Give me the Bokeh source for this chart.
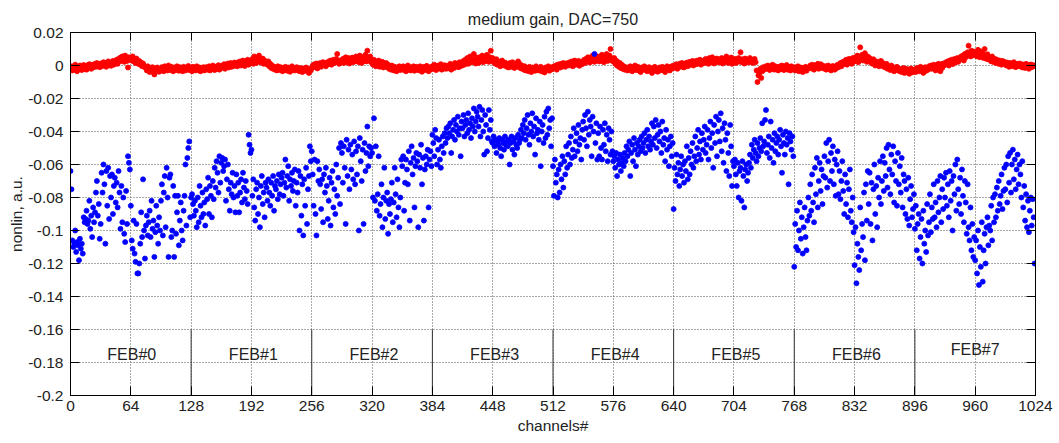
from bokeh.plotting import figure
from bokeh.models import FixedTicker, LinearAxis, Range1d, CustomLabelingPolicy
from bokeh.embed import file_html
from bokeh.resources import INLINE
from bokeh.core.properties import value

title_text = "medium gain, DAC=750"
x_label = "channels#"
y_label = "nonlin, a.u."
x_ticks = [0, 64, 128, 192, 256, 320, 384, 448, 512, 576, 640, 704, 768, 832, 896, 960, 1024]
y_ticks = [0.02, 0, -0.02, -0.04, -0.06, -0.08, -0.1, -0.12, -0.14, -0.16, -0.18, -0.2]
y_tick_labels = ["0.02", "0", "-0.02", "-0.04", "-0.06", "-0.08", "-0.1", "-0.12", "-0.14", "-0.16", "-0.18", "-0.2"]
feb_labels = ["FEB#0", "FEB#1", "FEB#2", "FEB#3", "FEB#4", "FEB#5", "FEB#6", "FEB#7"]
feb_x = [65, 194, 322, 450, 578, 706, 834, 960]
feb_y = [-0.175, -0.175, -0.175, -0.175, -0.175, -0.175, -0.175, -0.172]
sep_x = [128, 256, 384, 512, 640, 768, 896]
sep_bottom = [-0.2] * 7
sep_top = [-0.16] * 7

# red series, units of 1e-4
red_e4 = [
    -20, -5, -30, -10, -25, 5, -18, -35, -8, -22, 0, -15, -28, -12, 3, -20,
    -10, -25, 2, -15, 8, -5, -20, 5, -12, 0, 10, -8, 15, -3, 6, -10,
    12, -5, 8, 20, 0, 15, -8, 10, 25, 3, 18, -2, 12, 28, 5, 15,
    20, 35, 10, 40, 25, 48, 30, 55, 38, 22, 60, 42, 28, -12, 50, 35,
    45, 30, 55, 25, 38, 15, 42, 20, 10, 28, 5, 18, -5, 12, 0, -10,
    -15, -30, -5, -25, -40, -18, -35, -10, -28, -54, -20, -32, -12, -25, -38, -22,
    -30, -10, -25, -35, -5, -22, -15, -30, 0, -18, -28, -8, -25, -35, -12, -20,
    -28, -5, -18, -32, -10, -25, -15, -35, -8, -22, -30, -12, -20, -3, -28, -15,
    -22, -35, -8, -25, -15, -30, -5, -20, -28, -12, -35, -18, -25, -10, -30, -20,
    -10, -25, -18, -5, -30, -12, -22, 0, -15, -28, -8, -20, -12, 2, -25, -10,
    -15, 0, -10, 8, -20, 5, -5, 12, -12, 3, 15, -8, 6, -3, 18, 0,
    10, -5, 20, 5, 25, 0, 15, 30, 8, -3, 22, 12, 35, 5, 18, 28,
    20, 40, 10, 55, 30, 15, 45, 25, 60, 35, 18, 28, 42, 10, 30, 22,
    15, 5, 25, -5, 10, -15, 0, -20, -8, -25, -12, -30, -5, -18, -28, -10,
    -22, -35, -15, -28, -8, -25, -32, -12, -20, -38, -18, -5, -28, -15, -30, -22,
    -10, -28, -20, -35, -15, -25, -40, -18, -30, -22, -12, -35, -25, -45, -20, -30,
    -15, 0, -10, 8, -5, 12, -18, 5, 0, 15, -8, 10, 20, 2, 12, -5,
    18, 8, 25, 12, 30, 5, 20, 35, 15, 28, 40, 70, 22, 10, 30, 18,
    25, 40, 15, 35, 50, 20, 30, 45, 12, 38, 28, 48, 20, 35, 25, 55,
    30, 45, 20, 60, 35, 15, 50, 28, 40, 65, 25, 90, 45, 30, 55, 20,
    25, 5, 35, 15, -5, 20, 10, 30, -8, 12, 0, 22, -12, 8, -5, 15,
    -10, 5, -20, -5, -25, 0, -15, -30, -8, -18, -35, -12, -22, -5, -28, -15,
    -20, -5, -28, -12, -35, -18, 0, -25, -10, -30, -15, -22, -5, -32, -18, -8,
    -25, -12, -30, -5, -20, -38, -15, -8, -28, -18, -2, -22, -35, -12, -25, -10,
    -5, -20, 5, -15, -28, -8, 0, -18, -12, 8, -25, -5, -15, 2, -20, -10,
    -18, 0, -12, 10, -25, -5, 5, -15, 15, -8, 0, 12, -10, 20, 5, -2,
    15, 28, 5, 35, 20, 45, 10, 30, 55, 18, 40, 25, 70, 32, 12, 48,
    30, 15, 50, 25, 40, 60, 20, 35, 45, 28, 65, 38, 22, 50, 90, 35,
    45, 20, 30, 10, 38, 5, 25, 15, -5, 20, 30, 8, 0, 18, 12, -8,
    5, -12, 15, 0, -8, 20, 10, -15, 3, 12, -5, 25, -10, 8, -18, 0,
    -10, -25, -5, -30, -15, -22, -35, -8, -20, -40, -12, -28, -18, -32, -5, -25,
    -15, -30, -22, -8, -35, -18, -25, -42, -12, -28, -20, -5, -32, -15, -25, -10,
    -20, -5, -15, 0, -25, 5, -10, 8, -12, 10, -3, 15, 0, -8, 12, 5,
    15, 0, 20, 8, 25, -5, 12, 30, 5, 18, 10, 28, -2, 22, 15, 8,
    20, 35, 15, 40, 25, 50, 30, 18, 45, 28, 60, 35, 22, 48, 30, 55,
    40, 25, 55, 30, 65, 38, 20, 50, 35, 70, 28, 45, 60, 100, 30, 42,
    25, 45, 10, 30, 0, 20, -8, 15, -15, 5, -20, -5, -25, -10, -18, -30,
    -12, -25, -5, -18, -35, -10, -22, 0, -28, -15, -8, -30, -20, -40, -12, -25,
    -18, -5, -28, -15, -35, -20, -10, -30, -25, -45, -15, -22, -8, -32, -20, -38,
    -25, -12, -30, -18, -8, -28, -15, -40, -20, -5, -22, -12, -30, -8, -18, -2,
    -15, 0, -10, 8, -20, 5, -5, 12, -8, 15, 0, -12, 10, 3, 18, -5,
    10, 22, 5, 18, 28, 0, 15, 25, 8, 30, 12, 20, 35, 5, 22, 15,
    30, 15, 40, 20, 35, 10, 45, 25, 18, 50, 28, 12, 38, 22, 42, 30,
    18, 35, 25, 45, 12, 30, 40, 20, 55, 28, 15, 38, 25, 48, 10, 32,
    28, 40, 15, 35, 22, 45, 30, 80, 20, 38, 25, 12, 42, 28, 35, 18,
    30, 45, 22, 35, 15, 28, 40, 20, -30, -100, -60, -45, -20, -75, -35, -10,
    -25, -15, -5, -20, 0, -12, -28, -8, -18, 5, -15, -25, -5, -20, -10, -30,
    -12, -5, -22, 0, -15, -28, -8, -18, 3, -25, -10, -15, -30, -5, -20, -12,
    -20, -30, -10, -25, -5, -35, -18, -12, -28, -40, -15, -22, -8, -32, -20, -15,
    -10, 0, -18, 5, -12, -25, 2, -8, -15, 10, -20, -5, 8, -12, 0, -18,
    -15, -5, -25, -10, 0, -20, -8, -30, -12, -3, -18, -25, -5, -15, 5, -10,
    0, 15, -5, 20, 8, 25, 12, 35, 5, 22, 40, 15, 28, 10, 45, 30,
    25, 50, 35, 60, 20, 45, 110, 38, 65, 30, 50, 75, 40, 22, 55, 35,
    45, 20, 30, 10, 38, 15, 0, 25, 8, 20, -5, 12, 28, 0, 15, -8,
    5, -12, 10, -20, -5, -15, -28, 0, -22, -10, -35, -18, -25, -8, -30, -20,
    -35, -22, -40, -28, -15, -45, -30, -20, -38, -25, -50, -32, -18, -42, -28, -35,
    -25, -40, -15, -30, -20, -35, -8, -28, -18, -45, -22, -10, -32, -15, -25, -5,
    -15, 0, -20, -8, 5, -12, -30, 2, -10, 10, -5, -35, 8, -15, 12, 0,
    5, 20, 10, 25, 0, 30, 15, 35, 8, 25, 40, 18, 32, 45, 22, 38,
    35, 55, 45, 60, 30, 70, 50, 65, 80, 120, 75, 55, 90, 60, 85, 70,
    65, 80, 55, 95, 70, 50, 85, 60, 75, 45, 100, 58, 40, 68, 50, 35,
    45, 25, 55, 30, 20, 40, 15, 35, 25, 10, 30, 20, 5, 28, 15, 22,
    10, 0, 18, 5, -8, 15, 0, 12, -5, 20, 8, -10, 10, 2, -3, 12,
    -5, 8, -12, 5, 0, -15, 10, -8, 3, -20, 0, 6, -10, 2, -5, 0,
]

# blue series, units of 1e-3
blue_e3 = [
    -64, -75, -106, -110, -108, -100, -113, -107, -109, -118, -105, -111, -108, -114, -92, -95,
    -93, -88, -96, -94, -82, -99, -91, -104, -86, -95, -89, -77, -70, -91, -84, -105,
    -96, -65, -77, -60, -72, -108, -64, -85, -62, -93, -67, -80, -66, -90, -73, -68,
    -83, -71, -86, -64, -77, -99, -73, -95, -80, -102, -107, -76, -96, -55, -59, -63,
    -85, -106, -111, -94, -114, -119, -96, -126, -126, -120, -108, -89, -104, -69, -100, -117,
    -97, -91, -103, -95, -88, -104, -82, -99, -94, -116, -101, -85, -97, -108, -92, -100,
    -82, -72, -103, -77, -67, -98, -62, -80, -116, -68, -66, -104, -100, -73, -116, -79,
    -102, -89, -79, -109, -94, -83, -100, -106, -88, -79, -60, -97, -56, -50, -46, -92,
    -80, -78, -84, -91, -82, -88, -98, -80, -95, -73, -85, -92, -77, -90, -83, -97,
    -75, -81, -68, -90, -73, -79, -92, -70, -81, -62, -74, -58, -65, -77, -55, -71,
    -59, -56, -64, -61, -57, -82, -69, -60, -75, -88, -71, -78, -65, -80, -73, -89,
    -66, -79, -71, -89, -77, -69, -83, -65, -74, -81, -70, -76, -84, -42, -48, -53,
    -51, -79, -69, -86, -94, -75, -71, -90, -80, -98, -73, -67, -84, -77, -92, -71,
    -74, -82, -69, -77, -85, -71, -79, -67, -88, -73, -75, -70, -81, -66, -78, -72,
    -68, -65, -79, -71, -57, -74, -67, -61, -82, -69, -73, -65, -76, -70, -63, -85,
    -71, -77, -64, -100, -67, -91, -72, -103, -69, -85, -62, -96, -75, -67, -49, -58,
    -52, -66, -85, -57, -90, -103, -58, -70, -63, -72, -87, -69, -95, -66, -77, -62,
    -73, -93, -82, -68, -97, -71, -64, -86, -75, -90, -60, -79, -68, -50, -84, -47,
    -53, -71, -49, -62, -96, -45, -67, -51, -75, -48, -63, -54, -69, -46, -72, -52,
    -66, -49, -100, -44, -58, -70, -51, -96, -47, -64, -53, -37, -61, -49, -55, -50,
    -53, -80, -32, -82, -49, -88, -78, -55, -91, -84, -72, -98, -80, -62, -93, -82,
    -77, -102, -84, -90, -81, -71, -95, -83, -62, -78, -92, -69, -86, -98, -80, -57,
    -61, -55, -88, -71, -57, -63, -72, -52, -94, -59, -49, -66, -56, -86, -61, -53,
    -58, -98, -54, -62, -48, -72, -56, -94, -63, -55, -60, -51, -86, -57, -52, -61,
    -42, -47, -55, -39, -44, -60, -51, -45, -57, -62, -49, -43, -53, -41, -47, -38,
    -44, -37, -41, -35, -53, -43, -39, -33, -45, -36, -40, -31, -42, -38, -55, -34,
    -38, -30, -43, -36, -33, -41, -29, -39, -35, -44, -32, -37, -26, -40, -34, -28,
    -31, -37, -25, -43, -33, -27, -40, -54, -30, -36, -52, -44, -27, -39, -33, -46,
    -47, -43, -49, -45, -53, -46, -48, -44, -50, -55, -45, -47, -51, -43, -48, -46,
    -49, -45, -60, -47, -43, -51, -46, -54, -44, -48, -50, -42, -47, -45, -39, -44,
    -36, -41, -33, -45, -38, -30, -42, -48, -35, -40, -29, -43, -37, -54, -32, -41,
    -39, -45, -34, -61, -40, -36, -47, -31, -44, -28, -42, -26, -38, -33, -49, -32,
    -61, -79, -57, -71, -66, -80, -63, -77, -60, -69, -55, -74, -58, -66, -49, -62,
    -54, -47, -60, -43, -56, -51, -38, -55, -46, -41, -52, -36, -48, -44, -57, -39,
    -34, -45, -30, -38, -49, -28, -42, -33, -37, -55, -31, -40, 7, -47, -35, -57,
    -41, -55, -37, -50, -57, -39, -48, -35, -52, -42, -58, -38, -45, -54, -40, -52,
    -58, -55, -62, -53, -67, -57, -60, -54, -64, -59, -56, -61, -53, -58, -49, -55,
    -51, -46, -67, -53, -48, -58, -44, -51, -61, -47, -54, -49, -45, -52, -43, -50,
    -47, -41, -53, -45, -39, -49, -43, -51, -46, -35, -48, -37, -44, -33, -50, -42,
    -36, -46, -40, -53, -34, -48, -44, -58, -39, -51, -45, -61, -49, -43, -55, -47,
    -87, -62, -70, -54, -66, -59, -73, -63, -55, -67, -60, -71, -58, -64, -49, -69,
    -56, -66, -52, -60, -47, -62, -55, -43, -58, -50, -39, -54, -46, -57, -41, -51,
    -45, -37, -53, -48, -39, -57, -44, -34, -50, -41, -62, -36, -47, -31, -55, -40,
    -33, -46, -29, -52, -38, -59, -35, -45, -64, -41, -53, -67, -36, -49, -73, -58,
    -61, -57, -66, -73, -59, -80, -64, -62, -82, -58, -67, -86, -63, -60, -70, -65,
    -59, -54, -62, -48, -56, -51, -45, -53, -58, -47, -55, -50, -44, -52, -35, -49,
    -46, -33, -27, -53, -48, -43, -56, -34, -50, -45, -59, -41, -52, -47, -43, -54,
    -45, -39, -49, -65, -42, -47, -54, -40, -48, -44, -72, -41, -46, -51, -43, -55,
    -122, -96, -110, -88, -112, -100, -83, -105, -92, -114, -98, -86, -104, -112, -94, -80,
    -91, -72, -88, -66, -83, -95, -62, -78, -56, -86, -70, -59, -76, -63, -84, -67,
    -55, -68, -47, -74, -58, -45, -70, -53, -64, -49, -72, -57, -79, -60, -52, -78,
    -64, -81, -70, -58, -76, -90, -66, -84, -71, -92, -75, -63, -88, -95, -80, -101,
    -121, -98, -132, -108, -116, -124, -86, -112, -96, -104, -77, -118, -72, -94, -64, -84,
    -65, -96, -71, -106, -75, -60, -90, -73, -98, -68, -80, -58, -84, -70, -55, -76,
    -59, -67, -50, -74, -48, -63, -78, -54, -66, -49, -83, -58, -70, -85, -53, -72,
    -61, -77, -56, -86, -66, -70, -90, -75, -93, -68, -97, -81, -73, -92, -87, -78,
    -99, -85, -112, -96, -90, -117, -104, -93, -120, -88, -108, -100, -113, -84, -103, -95,
    -78, -101, -86, -93, -72, -92, -83, -98, -70, -89, -80, -67, -95, -75, -87, -68,
    -80, -65, -85, -72, -92, -64, -82, -70, -100, -67, -78, -60, -88, -57, -75, -84,
    -68, -90, -63, -79, -95, -70, -83, -102, -72, -98, -106, -86, -112, -96, -116, -104,
    -118, -106, -126, -100, -133, -110, -122, -95, -131, -112, -102, -120, -98, -92, -109, -97,
    -100, -85, -106, -80, -95, -78, -92, -74, -88, -70, -84, -79, -66, -87, -76, -62,
    -75, -60, -83, -55, -71, -53, -77, -60, -51, -69, -57, -75, -63, -54, -72, -60,
    -66, -80, -58, -86, -73, -94, -78, -98, -82, -101, -88, -80, -97, -81, -92, -120,
]

assert len(red_e4) == 1024, len(red_e4)
assert len(blue_e3) == 1024, len(blue_e3)

channels = list(range(1024))
red_vals = [v * 1e-4 for v in red_e4]
blue_vals = [v * 1e-3 for v in blue_e3]

FONT = "Liberation Sans"
TXT = "#222222"
FS = "16px"
FS_AX = "15.5px"

p = figure(width=1059, height=443,
           x_range=Range1d(0, 1024), y_range=Range1d(-0.2, 0.02),
           output_backend="svg", toolbar_location=None,
           min_border_left=70, min_border_right=24,
           min_border_top=32, min_border_bottom=48)
p.title.text = title_text
p.title.align = "center"
p.title.text_font = FONT
p.title.text_font_size = FS
p.title.text_font_style = "normal"
p.title.text_color = TXT
p.background_fill_color = "white"
p.border_fill_color = "white"
p.outline_line_color = "black"

p.xaxis.ticker = FixedTicker(ticks=x_ticks)
p.yaxis.ticker = FixedTicker(ticks=y_ticks)
p.yaxis.major_label_overrides = {t: s for t, s in zip(y_ticks, y_tick_labels)}
p.xaxis.axis_label = x_label
p.yaxis.axis_label = y_label

for ax in (p.xaxis[0], p.yaxis[0]):
    ax.major_tick_in = 9
    ax.major_tick_out = 0
    ax.minor_tick_line_color = None
    ax.axis_line_color = "black"
    ax.major_tick_line_color = "black"
    ax.major_label_text_font = FONT
    ax.major_label_text_font_size = FS_AX
    ax.major_label_text_color = TXT
    ax.axis_label_text_font = FONT
    ax.axis_label_text_font_size = FS_AX
    ax.axis_label_text_font_style = "normal"
    ax.axis_label_text_color = TXT
p.xaxis.major_label_standoff = 5
p.xaxis.axis_label_standoff = 3
p.yaxis.major_label_standoff = 7
p.yaxis.axis_label_standoff = 0

top_ax = LinearAxis(ticker=FixedTicker(ticks=x_ticks), major_tick_in=8, major_tick_out=0,
                    minor_tick_line_color=None, major_label_text_font_size="0px",
                    major_label_standoff=0, axis_line_color="black",
                    major_label_policy=CustomLabelingPolicy(code="return []"))
right_ax = LinearAxis(ticker=FixedTicker(ticks=y_ticks), major_tick_in=9, major_tick_out=0,
                      minor_tick_line_color=None, major_label_text_font_size="0px",
                      major_label_standoff=0, axis_line_color="black",
                      major_label_policy=CustomLabelingPolicy(code="return []"))
p.add_layout(top_ax, "above")
p.add_layout(right_ax, "right")

for g in (p.xgrid[0], p.ygrid[0]):
    g.grid_line_color = "#555555"
    g.grid_line_dash = "1 2"
    g.grid_line_width = 1

p.segment(x0=sep_x, y0=sep_bottom, x1=sep_x, y1=sep_top, line_color="#333333", line_width=1)
p.text(x=feb_x, y=feb_y, text=feb_labels, text_align="center", text_baseline="middle",
       text_font=value(FONT), text_font_size=FS, text_color=TXT)

p.scatter(channels, red_vals, marker="circle", size=5, fill_color="#ff0000", line_color="#ff0000", line_width=0.8)
p.scatter(channels, blue_vals, marker="circle", size=5, fill_color="#0000ff", line_color="#0000ff", line_width=0.8)

open("out.html", "w").write(file_html(p, INLINE))
